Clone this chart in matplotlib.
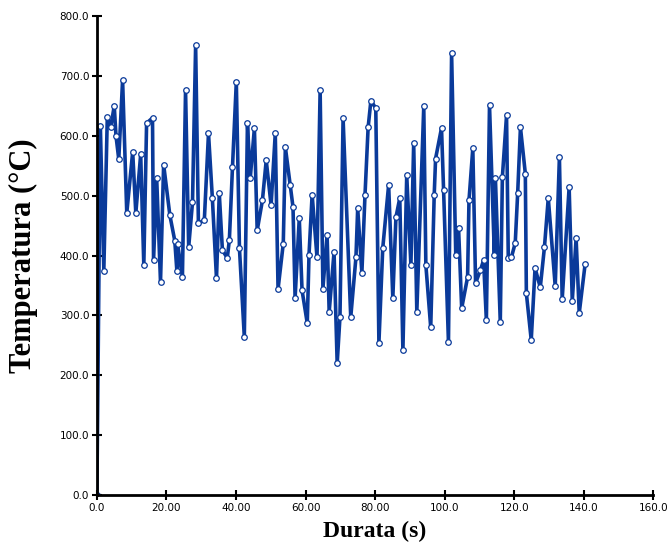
import matplotlib.pyplot as plt

# values
durata = [0, 1, 2, 3, 4, 5, 5.5, 6.3, 7.4, 8.6, 10.3, 11.2, 12.6, 13.5, 14.3, 16,
          16.3, 17.2, 18.3, 19.2, 21, 22.4, 23, 23.2, 24.6, 25.5, 26.4, 27.5, 28.4,
          29.2, 30.9, 32.1, 33.2, 34.4, 35.2, 36.1, 37.5, 38.1, 39, 40.1, 41, 42.4,
          43.3, 44.1, 45.3, 46.1, 47.6, 48.7, 50.1, 51.3, 52.1, 53.6, 54.2, 55.6,
          56.4, 57, 58.2, 59, 60.5, 61, 61.9, 63.3, 64.2, 65, 66.2, 66.8, 68.2, 69.1,
          69.9, 70.8, 73, 74.5, 75, 76.2, 77.1, 78, 78.8, 80.2, 81.1, 82.2, 83.9,
          85.1, 86, 87.1, 88, 89.1, 90.3, 91.1, 92, 94, 94.6, 96, 97, 97.4, 99.1,
          99.7, 101.1, 102, 103.2, 104, 104.9, 106.6, 107, 108.1, 108.9, 110.3,
          111.2, 112, 112.9, 114.3, 114.6, 116, 116.6, 117.8, 118.3, 119.2, 120.3,
          121, 121.8, 123.2, 123.5, 124.9, 126, 127.5, 128.7, 129.8, 131.8, 133,
          133.8, 135.8, 136.7, 137.8, 138.7, 140.4]
temperatura = [0, 617, 375, 631, 615, 650, 600, 561, 693, 471, 573, 471, 569, 384, 621,
               630, 392, 529, 356, 552, 467, 425, 375, 420, 364, 676, 414, 489, 751,
               454, 459, 604, 497, 362, 504, 409, 396, 426, 548, 690, 412, 264, 621,
               529, 613, 442, 492, 559, 484, 604, 344, 420, 581, 518, 481, 329, 462,
               342, 287, 401, 502, 397, 676, 345, 434, 306, 406, 220, 297, 629, 297,
               397, 479, 371, 501, 614, 659, 646, 254, 412, 518, 329, 464, 496, 242,
               534, 384, 588, 306, 649, 384, 280, 501, 562, 613, 509, 255, 738, 401,
               446, 312, 364, 492, 579, 354, 376, 392, 292, 651, 401, 529, 289, 531,
               634, 396, 397, 421, 504, 614, 537, 337, 259, 379, 347, 414, 496, 349,
               564, 327, 514, 324, 429, 304, 386]

x_ticks = [0, 20, 40, 60, 80, 100, 120, 140, 160]
x_labels = ["0.0", "20.00", "40.00", "60.00", "80.00", "100.0", "120.0", "140.0", "160.0"]
y_ticks = [0, 100, 200, 300, 400, 500, 600, 700, 800]
y_labels = ["0.0", "100.0", "200.0", "300.0", "400.0", "500.0", "600.0", "700.0", "800.0"]

fig = plt.figure(figsize=(6.68, 5.55), dpi=100)
ax = fig.add_axes([0.145, 0.108, 0.833, 0.863])

ax.plot(durata, temperatura, color='#0a3a9a', linewidth=2.6,
        marker='o', markersize=4, markerfacecolor='white',
        markeredgecolor='#0a3a9a', markeredgewidth=0.9)

ax.set_xlim(0, 160)
ax.set_ylim(0, 800)
ax.set_xticks(x_ticks)
ax.set_xticklabels(x_labels, fontsize=7.5, family='Liberation Sans Narrow')
ax.set_yticks(y_ticks)
ax.set_yticklabels(y_labels, fontsize=7.5, family='Liberation Sans Narrow')
ax.tick_params(direction='inout', length=7, width=1.5, pad=2)

for s in ['top', 'right']:
    ax.spines[s].set_visible(False)
for s in ['left', 'bottom']:
    ax.spines[s].set_linewidth(2)

ax.set_xlabel("Durata (s)", fontsize=17, fontweight='bold',
              family='Liberation Serif', labelpad=6)
ax.set_ylabel("Temperatura (°C)", fontsize=22, fontweight='bold',
              family='Liberation Serif')
ax.yaxis.set_label_coords(-0.105, 0.5)

fig.savefig("out.png", dpi=100)
